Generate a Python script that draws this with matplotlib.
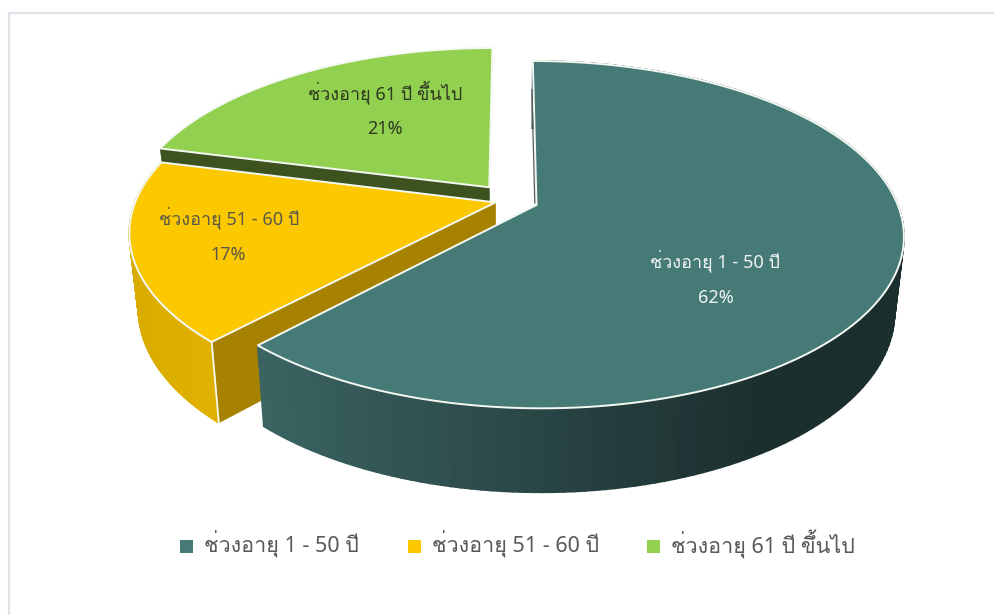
import numpy as np
import matplotlib
matplotlib.use("Agg")
import matplotlib.pyplot as plt
from matplotlib.colors import to_rgb
from matplotlib.patches import Polygon, Rectangle

categories = ["ช่วงอายุ 1 - 50 ปี", "ช่วงอายุ 51 - 60 ปี", "ช่วงอายุ 61 ปี ขึ้นไป"]
values = [62, 17, 21]

family = ["Noto Sans", "Loma", "DejaVu Sans"]

top_colors = ["#467A76", "#FCC800", "#92D050"]
explode = [0.076, 0.045, 0.10]
CX, CY, RX, RY, K = 511.0, 200.3, 359.5, 167.0, 0.17

def proj(x, y):
    w = 1 + K * y
    return CX + RX * x / w, CY - RY * y / w

def lower(sx, sy):
    return CX + (sx - CX) * 0.976, sy + 81 + 0.048 * (sy - 346)

fig = plt.figure(figsize=(9.95, 6.15), dpi=100)
ax = fig.add_axes([0, 0, 1, 1])
ax.set_xlim(0, 995); ax.set_ylim(615, 0); ax.axis("off")
ax.plot([8.5, 8.5, 995], [615, 12.5, 12.5], color="#DDE3E8", lw=1.6, zorder=0)

fr = np.cumsum([0] + values) / sum(values) * 2 * np.pi

def slice_pts(i, n=160):
    a = np.linspace(fr[i], fr[i + 1], n)
    mid = (fr[i] + fr[i + 1]) / 2
    ex, ey = explode[i] * np.sin(mid), explode[i] * np.cos(mid)
    ox, oy = proj(np.sin(a) + ex, np.cos(a) + ey)
    ax0, ay0 = proj(ex, ey)
    return a, ox, oy, ax0, ay0

def wall(ox, oy, c_left, c_right, z, xl=263, xr=760):
    bx, by = lower(ox, oy)
    c0, c1 = np.array(to_rgb(c_left)), np.array(to_rgb(c_right))
    for j in range(len(ox) - 1):
        t = np.clip((ox[j] - xl) / (xr - xl), 0, 1)
        c = c0 + (c1 - c0) * t
        ax.add_patch(Polygon([(ox[j], oy[j]), (ox[j + 1], oy[j + 1]), (bx[j + 1], by[j + 1]), (bx[j], by[j])],
                             closed=True, fc=c, ec=c, lw=1.2, zorder=z))

def top(i, ox, oy, ax0, ay0, z):
    ax.add_patch(Polygon(np.r_[[[ax0, ay0]], np.c_[ox, oy]], closed=True, fc=top_colors[i],
                         ec="#F4F8F2", lw=1.4, joinstyle="miter", zorder=z))

# green slice (back)
a, ox, oy, x0, y0 = slice_pts(2)
bx, by = lower(np.array([ox[0], x0]), np.array([oy[0], y0]))
ax.add_patch(Polygon([(ox[0], oy[0]), (x0, y0), (bx[1], by[1]), (bx[0], by[0])], closed=True,
                     fc="#3C5320", ec="#3C5320", lw=0.5, zorder=2))
top(2, ox, oy, x0, y0, 3)

# yellow slice
a, ox, oy, x0, y0 = slice_pts(1)
bx, by = lower(np.array([ox[0], x0]), np.array([oy[0], y0]))
ax.add_patch(Polygon([(ox[0], oy[0]), (x0, y0), (bx[1], by[1]), (bx[0], by[0])], closed=True,
                     fc="#A68200", ec="#A68200", lw=0.5, zorder=4))
wall(ox, oy, "#D9AC00", "#E0B200", 4, xl=130, xr=220)
ax.plot([ox[0], bx[0]], [oy[0], by[0]], color="#F4F8F2", lw=1.3, zorder=5)
top(1, ox, oy, x0, y0, 6)

# teal slice (front)
a, ox, oy, x0, y0 = slice_pts(0)
wall(ox, oy, "#3A6361", "#1C2F2F", 7)
top(0, ox, oy, x0, y0, 8)
frac = 0.2
ax.plot([ox[0] + (x0 - ox[0]) * frac - 1.7, x0 - 1.7], [oy[0] + (y0 - oy[0]) * frac, y0 - 2],
        color="#555F60", lw=0.9, zorder=9)

# data labels
lab = [(715, 261, 716, 298, "#EEF3F2"), (229, 218, 228, 255, "#5A5A4A"), (385, 92, 385, 129, "#2F3A22")]
for name, v, (tx, ty, px, py, col) in zip(categories, values, lab):
    ax.text(tx, ty, name, color=col, fontsize=13, family=family, ha="center", va="center", zorder=10)
    ax.text(px, py, f"{v}%", color=col, fontsize=13, family=family, ha="center", va="center", zorder=10)

# legend
for name, col, sq, tx in zip(categories, top_colors, [180, 408, 647], [204, 432, 671]):
    ax.add_patch(Rectangle((sq, 540), 13, 13, fc=col, ec="none"))
    ax.text(tx, 544, name, color="#595959", fontsize=15.5, family=family, ha="left", va="center")

fig.savefig("out.png", dpi=100)
